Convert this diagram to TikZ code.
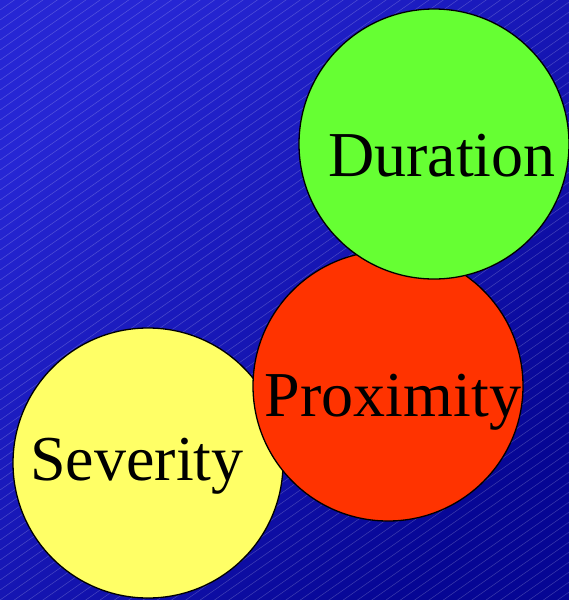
\documentclass[tikz,border=0pt]{standalone}
\usepackage{fontspec}
\setmainfont{Liberation Serif}
\usepackage{xcolor}
\usetikzlibrary{shapes,positioning,calc}

\definecolor{bgtop}{RGB}{38,38,212}
\definecolor{bgbot}{RGB}{6,6,148}
\definecolor{durgreen}{RGB}{102,255,51}
\definecolor{proxred}{RGB}{255,51,0}
\definecolor{sevyellow}{RGB}{255,255,102}

\begin{document}
\begin{tikzpicture}[x=1pt, y=-1pt,
    bubble/.style={draw, circle, minimum size=270pt, line width=1.3pt},
    word/.style={anchor=base, font=\fontsize{64}{64}\selectfont}]
    % Background
    \useasboundingbox (0,0) rectangle (569,600);
    \shade [top color=bgtop, bottom color=bgbot, shading angle=45] (0,0) rectangle (569,600);
    \begin{scope}
        \clip (0,0) rectangle (569,600);
        \foreach \c in {0,10,...,1000}
            \draw [white, opacity=0.22, line width=0.5pt] (0,\c) -- (1430,\c-1000);
    \end{scope}

    % Circles
    \node [bubble, fill=sevyellow] (sev) at (148,463) {};
    \node [bubble, fill=proxred] (prox) at (388,386) {};
    \node [bubble, fill=durgreen] (dur) at (434,144) {};

    % Labels
    \node [word] (sevtext) at (137,480) {Severity};
    \node [word] (proxtext) at (393,416) {Proximity};
    \node [word] (durtext) at (442,176) {Duration};
\end{tikzpicture}
\end{document}
